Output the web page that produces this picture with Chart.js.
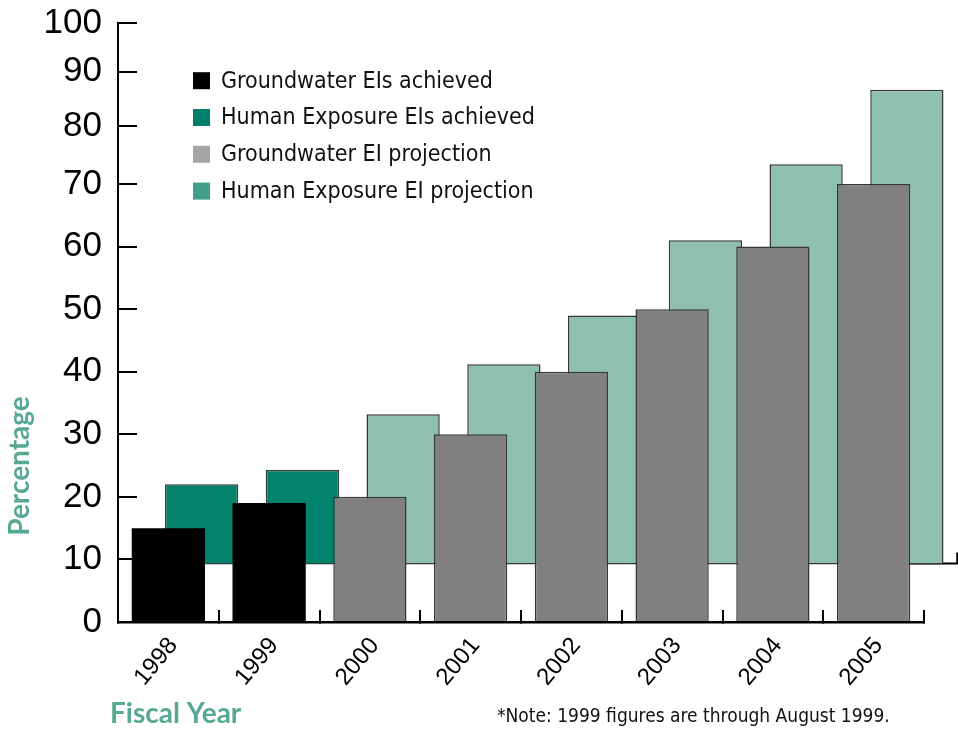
<!DOCTYPE html>
<html>
<head>
<meta charset="utf-8">
<title>Environmental Indicators</title>
<script src="https://cdn.jsdelivr.net/npm/chart.js@4.4.1/dist/chart.umd.min.js"></script>
<style>
  html, body { margin: 0; padding: 0; background: #fff; }
  #wrap { width: 958px; height: 729px; }
</style>
</head>
<body>
<div id="wrap"><canvas id="chart" width="958" height="729"></canvas></div>
<script>
// Fiscal years on the horizontal axis
const years = [1998, 1999, 2000, 2001, 2002, 2003, 2004, 2005];

// Percentages (front row: groundwater, back row: human exposure)
const gwAchieved   = [15, 19, null, null, null, null, null, null];
const heAchieved   = [22, 24.3, null, null, null, null, null, null];
const gwProjection = [null, null, 20, 30, 40, 50, 60, 70];
const heProjection = [null, null, 33.2, 41.2, 49, 61, 73.4, 86.7];

// Vertical axis tick values
const yTicks = [0, 10, 20, 30, 40, 50, 60, 70, 80, 90, 100];

const seriesNames = [
  'Groundwater EIs achieved',
  'Human Exposure EIs achieved',
  'Groundwater EI projection',
  'Human Exposure EI projection'
];

// Depth of the back row, in fiscal-year units, and the value its floor sits at
const DEPTH = 0.33;
const BACK_FLOOR = 9.2;

// Back-row bars float between the floor and their value
const toBack = v => (v == null ? null : [BACK_FLOOR, v]);

// Linear scale whose upper decades are drawn progressively tighter
class WarpedScale extends Chart.LinearScale {
  _warp(v) {
    const k = this.options.warp;
    for (let i = 1; i < k.length; i++) {
      if (v <= k[i][0] || i === k.length - 1) {
        const [a, fa] = k[i - 1], [b, fb] = k[i];
        return fa + (v - a) * (fb - fa) / (b - a);
      }
    }
  }
  _unwarp(d) {
    const k = this.options.warp;
    for (let i = 1; i < k.length; i++) {
      if (d <= k[i][1] || i === k.length - 1) {
        const [a, fa] = k[i - 1], [b, fb] = k[i];
        return a + (d - fa) * (b - a) / (fb - fa);
      }
    }
  }
  getPixelForValue(value) {
    if (value === null || value === undefined || isNaN(value)) return NaN;
    return this.getPixelForDecimal(this._warp(value));
  }
  getValueForPixel(pixel) {
    return this._unwarp(this.getDecimalForPixel(pixel));
  }
}
WarpedScale.id = 'warped';
WarpedScale.defaults = Chart.LinearScale.defaults;
Chart.register(WarpedScale);

const TEAL_TEXT = '#58a993';
const NARROW = '"Liberation Sans Narrow", "DejaVu Sans Condensed", sans-serif';

// Back floor extension, legend and captions
const decorations = {
  id: 'decorations',
  beforeDatasetsDraw(chart) {
    const { ctx, scales: { xb, y } } = chart;
    const fy = y.getPixelForValue(BACK_FLOOR) - 1;
    const x0 = xb.getPixelForValue(years[years.length - 1]);
    const x1 = xb.getPixelForValue(years[years.length - 1] + 0.5);
    ctx.save();
    ctx.strokeStyle = '#000';
    ctx.lineWidth = 2;
    ctx.beginPath();
    ctx.moveTo(x0, fy);
    ctx.lineTo(x1, fy);
    ctx.moveTo(x1, fy + 1);
    ctx.lineTo(x1, fy - 11);
    ctx.stroke();
    ctx.restore();
  },
  afterDraw(chart, args, opts) {
    const { ctx } = chart;
    ctx.save();
    // legend
    ctx.font = '23px ' + NARROW;
    ctx.textBaseline = 'middle';
    ctx.textAlign = 'left';
    chart.data.datasets.forEach((ds, i) => {
      const cy = 80.7 + i * 36.8;
      ctx.fillStyle = opts.swatches[i];
      ctx.fillRect(193, cy - 8.5, 17, 17);
      ctx.fillStyle = '#111';
      ctx.fillText(ds.label, 221, cy + 1);
    });
    // footnote
    ctx.font = '19px ' + NARROW;
    ctx.fillStyle = '#111';
    ctx.fillText('*Note: 1999 figures are through August 1999.', 497, 717);
    // axis captions
    ctx.fillStyle = TEAL_TEXT;
    ctx.font = 'bold 28px Lato, "Open Sans", sans-serif';
    ctx.textBaseline = 'alphabetic';
    ctx.fillText('Fiscal Year', 110, 723);
    ctx.translate(29, 466);
    ctx.rotate(-Math.PI / 2);
    ctx.textAlign = 'center';
    ctx.fillText('Percentage', 0, 0);
    ctx.restore();
  }
};

const barStyle = { categoryPercentage: 1, barPercentage: 0.727, grouped: false };

new Chart(document.getElementById('chart'), {
  type: 'bar',
  data: {
    labels: years,
    datasets: [
      { label: seriesNames[0], data: gwAchieved, xAxisID: 'x', order: 1,
        backgroundColor: '#000000', borderColor: '#000000', borderWidth: 0, ...barStyle },
      { label: seriesNames[1], data: heAchieved.map(toBack), xAxisID: 'xb', order: 2, clip: false,
        backgroundColor: '#00826b', borderColor: '#2e3b37', borderWidth: 1.5, borderSkipped: false, ...barStyle },
      { label: seriesNames[2], data: gwProjection, xAxisID: 'x', order: 1,
        backgroundColor: '#808080', borderColor: '#363636', borderWidth: 1.5, ...barStyle },
      { label: seriesNames[3], data: heProjection.map(toBack), xAxisID: 'xb', order: 2, clip: false,
        backgroundColor: '#8fbfb0', borderColor: '#363636', borderWidth: 1.5, borderSkipped: false, ...barStyle }
    ]
  },
  options: {
    responsive: false,
    animation: false,
    events: [],
    layout: { padding: { left: 0, right: 34, top: 23, bottom: 0 } },
    scales: {
      x: {
        type: 'linear',
        position: 'bottom',
        offset: false,
        min: years[0] - 0.5,
        max: years[years.length - 1] + 0.5,
        afterBuildTicks: s => { s.ticks = years.map(value => ({ value })); },
        afterFit: s => { s.height = 107; s.paddingLeft = 0; s.paddingRight = 0; },
        grid: { display: true, drawOnChartArea: false, drawTicks: true, tickLength: -12,
                offset: true, color: '#000', lineWidth: 2 },
        border: { display: true, color: '#000', width: 2.5, z: 1 },
        ticks: {
          autoSkip: false, minRotation: 50, maxRotation: 50,
          color: '#000', padding: 22, labelOffset: 5,
          font: { family: '"Liberation Sans", Arial, sans-serif', size: 24 },
          callback: v => String(v)
        }
      },
      xb: {
        type: 'linear',
        display: false,
        position: 'bottom',
        offset: false,
        min: years[0] - 0.5 - DEPTH,
        max: years[years.length - 1] + 0.5 - DEPTH,
        afterBuildTicks: s => { s.ticks = years.map(value => ({ value })); }
      },
      y: {
        type: 'warped',
        position: 'left',
        min: 0,
        max: 100,
        warp: [[0, 0], [70, 0.7312], [80, 0.8280], [90, 0.9187], [100, 1]],
        afterBuildTicks: s => { s.ticks = yTicks.map(value => ({ value })); },
        afterFit: s => { s.width = 118; s.paddingTop = 0; s.paddingBottom = 0; },
        grid: { display: true, drawOnChartArea: false, drawTicks: true, tickLength: -19,
                color: '#000', lineWidth: 2 },
        border: { display: true, color: '#000', width: 2, z: 1 },
        ticks: {
          color: '#000', padding: 35,
          font: { family: '"Liberation Sans", Arial, sans-serif', size: 35 },
          callback: v => String(v)
        }
      }
    },
    plugins: {
      legend: { display: false },
      tooltip: { enabled: false },
      decorations: {
        swatches: ['#000000', '#00806a', '#a6a6a6', '#40a08a']
      }
    }
  },
  plugins: [decorations]
});
</script>
</body>
</html>
